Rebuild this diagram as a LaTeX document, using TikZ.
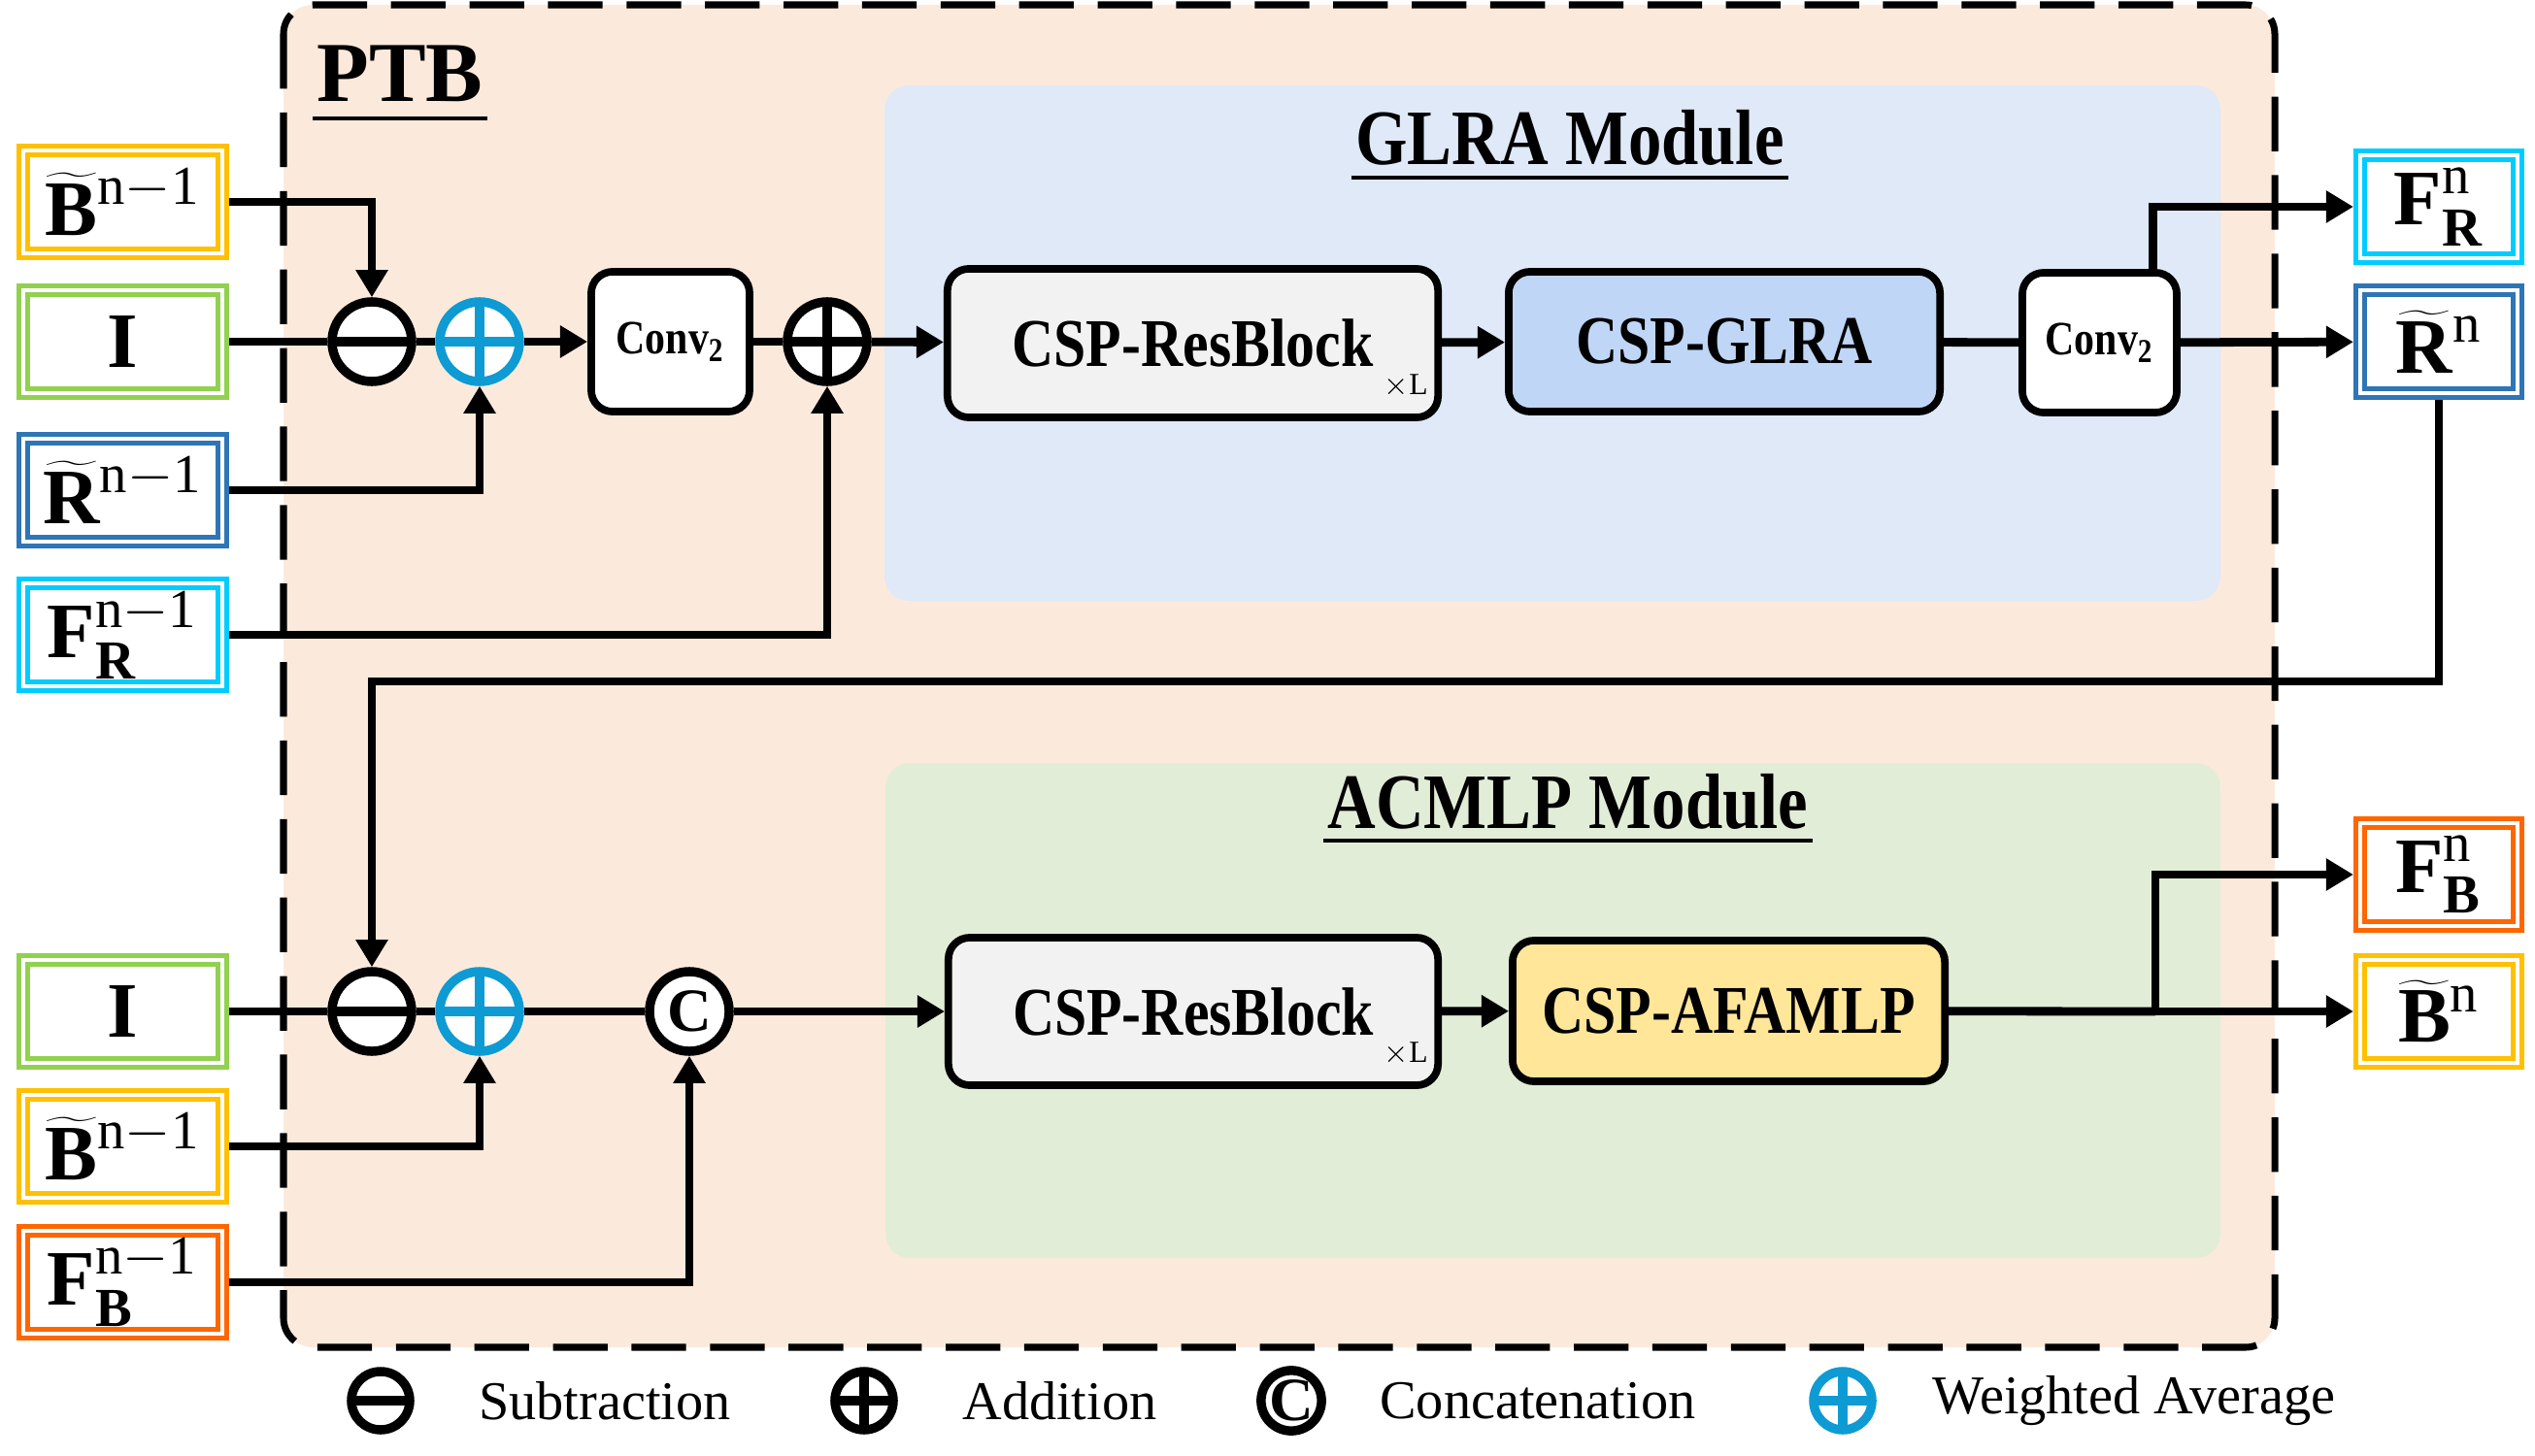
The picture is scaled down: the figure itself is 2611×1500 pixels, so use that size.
\documentclass[tikz,border=0pt]{standalone}
\usepackage{fontspec}
\setmainfont{Liberation Serif}
\newfontfamily\narrowfont{Liberation Serif}[FakeStretch=0.85]
\usetikzlibrary{arrows.meta}
\definecolor{ptbfill}{HTML}{FBEADC}
\definecolor{glrafill}{HTML}{DFE9F8}
\definecolor{acmlpfill}{HTML}{E2EDD8}
\definecolor{glrabox}{HTML}{BFD6F6}
\definecolor{afambox}{HTML}{FFE699}
\definecolor{resbox}{HTML}{F2F2F2}
\definecolor{cyell}{HTML}{FFC000}
\definecolor{cgreen}{HTML}{92D050}
\definecolor{cblue}{HTML}{2E75B6}
\definecolor{ccyan}{HTML}{00CCFF}
\definecolor{corange}{HTML}{FF6600}
\definecolor{wavg}{HTML}{0E9BD3}
\begin{document}
\begin{tikzpicture}[x=0.01cm,y=-0.01cm,
		>={Triangle[length=8pt,width=9pt]},
		line width=2.5pt,
		io/.style={draw=#1, double=white, double distance=1pt, line width=1.5pt, fill=white, outer sep=2pt,
			minimum width=2.05cm, minimum height=1.06cm, inner sep=0pt, font=\fontsize{23}{26}\selectfont},
		blk/.style={draw, line width=2.2pt, rounded corners=0.22cm, inner sep=0pt,
			font=\narrowfont\bfseries\fontsize{20}{24}\selectfont},
		opc/.style={circle, draw=#1, fill=white, line width=2.7pt, minimum size=0.82cm, inner sep=0pt},
		minus/.style={opc=black, path picture={\draw[line width=2.7pt] (path picture bounding box.west) -- (path picture bounding box.east);}},
		plus/.style={opc=#1, path picture={\draw[#1, line width=2.7pt] (path picture bounding box.west) -- (path picture bounding box.east)
			(path picture bounding box.north) -- (path picture bounding box.south);}},
		cat/.style={opc=black, font=\bfseries\fontsize{18}{20}\selectfont},
		ttl/.style={font=\narrowfont\bfseries\fontsize{23}{28}\selectfont, inner sep=0pt},
		lgd/.style={anchor=west, inner sep=0pt, font=\fontsize{16}{19}\selectfont},
		times/.style={anchor=south east, inner sep=0pt, font=\fontsize{9}{10}\selectfont}]
	\useasboundingbox (0,0) rectangle (2611,1500);
	% PTB block and the two modules
	\draw[fill=ptbfill, line width=2pt, dash pattern=on 16pt off 7pt, rounded corners=0.3cm] (292,5) rectangle (2343,1388);
	\fill[glrafill, rounded corners=0.25cm] (911,88) rectangle (2287,619);
	\fill[acmlpfill, rounded corners=0.25cm] (912,786) rectangle (2287,1296);
	\node[ttl, anchor=base west, font=\bfseries\fontsize{25}{30}\selectfont] (ptb) at (322,105) {PTB};
	\node[ttl, anchor=base] (glrat) at (1617,170) {GLRA Module};
	\node[ttl, anchor=base] (acmlpt) at (1615,853) {ACMLP Module};
	\draw[line width=1.4pt] ([yshift=-0.17cm]ptb.base west) -- ([yshift=-0.17cm]ptb.base east);
	\draw[line width=1.4pt] ([yshift=-0.13cm]glrat.base west) -- ([yshift=-0.13cm]glrat.base east);
	\draw[line width=1.4pt] ([yshift=-0.13cm]acmlpt.base west) -- ([yshift=-0.13cm]acmlpt.base east);
	% inputs
	\node[io=cyell] (bprev) at (126.5,208) {$\widetilde{\mathbf{B}}^{\mathrm{n-1}}$};
	\node[io=cgreen] (ia) at (126.5,352) {$\mathbf{I}$};
	\node[io=cblue] (rprev) at (126.5,505) {$\widetilde{\mathbf{R}}^{\mathrm{n-1}}$};
	\node[io=ccyan] (frprev) at (126.5,654) {$\mathbf{F}_{\mathbf{R}}^{\mathrm{n-1}}$};
	\node[io=cgreen] (ib) at (126.5,1042) {$\mathbf{I}$};
	\node[io=cyell] (bprevb) at (126.5,1181) {$\widetilde{\mathbf{B}}^{\mathrm{n-1}}$};
	\node[io=corange] (fbprev) at (126.5,1321) {$\mathbf{F}_{\mathbf{B}}^{\mathrm{n-1}}$};
	% outputs
	\node[io=ccyan, minimum width=1.62cm] (frout) at (2512,213) {$\mathbf{F}_{\mathbf{R}}^{\mathrm{n}}$};
	\node[io=cblue, minimum width=1.62cm] (rout) at (2512,352) {$\widetilde{\mathbf{R}}^{\mathrm{n}}$};
	\node[io=corange, minimum width=1.62cm] (fbout) at (2512,901) {$\mathbf{F}_{\mathbf{B}}^{\mathrm{n}}$};
	\node[io=cyell, minimum width=1.62cm] (bout) at (2512,1042) {$\widetilde{\mathbf{B}}^{\mathrm{n}}$};
	% GLRA row
	\node[minus] (suba) at (383,352) {};
	\node[plus=wavg] (wava) at (494,352) {};
	\node[blk, fill=white, minimum width=1.63cm, minimum height=1.44cm, font=\narrowfont\bfseries\fontsize{14}{16}\selectfont] (conva) at (690.5,352) {Conv\textsubscript{2}};
	\node[plus=black] (adda) at (852,352) {};
	\node[blk, fill=resbox, minimum width=5.05cm, minimum height=1.53cm] (resa) at (1228.5,353.5) {CSP-ResBlock};
	\node[times] (la) at ([xshift=-0.1cm,yshift=0.2cm]resa.south east) {$\times$L};
	\node[blk, fill=glrabox, minimum width=4.44cm, minimum height=1.44cm] (glra) at (1776,352) {CSP-GLRA};
	\node[blk, fill=white, minimum width=1.59cm, minimum height=1.44cm, font=\narrowfont\bfseries\fontsize{14}{16}\selectfont] (convb) at (2162.5,353) {Conv\textsubscript{2}};
	% ACMLP row
	\node[minus] (subb) at (383,1042) {};
	\node[plus=wavg] (wavb) at (494,1042) {};
	\node[cat] (catb) at (710,1042) {C};
	\node[blk, fill=resbox, minimum width=5.04cm, minimum height=1.52cm] (resb) at (1229,1042) {CSP-ResBlock};
	\node[times] (lb) at ([xshift=-0.1cm,yshift=0.2cm]resb.south east) {$\times$L};
	\node[blk, fill=afambox, minimum width=4.45cm, minimum height=1.45cm] (afam) at (1780.5,1041.5) {CSP-AFAMLP};
	\coordinate (split) at (2220,1042);
	% connectors
	\draw (ia) -- (suba) -- (wava);
	\draw[->] (wava) -- (conva);
	\draw (conva) -- (adda);
	\draw[->] (adda) -- (resa);
	\draw[->] (resa) -- (glra);
	\draw (glra) -- (convb);
	\draw[->] (convb) -- (rout);
	\draw[->] ([xshift=0.55cm]convb.north) |- (frout);
	\draw[->] (bprev) -| (suba);
	\draw[->] (rprev) -| (wava);
	\draw[->] (frprev) -| (adda);
	\draw[->] (rout) -- ++(0,350) -| (subb);
	\draw (ib) -- (subb) -- (wavb) -- (catb);
	\draw[->] (catb) -- (resb);
	\draw[->] (resb) -- (afam);
	\draw (afam) -- (split);
	\draw[->] (split) -- (bout);
	\draw[->] (split) |- (fbout);
	\draw[->] (bprevb) -| (wavb);
	\draw[->] (fbprev) -| (catb);
	% legend
	\node[minus, minimum size=0.6cm] (lsub) at (392,1443) {};
	\node[lgd] (lsubt) at (489,1443) {Subtraction};
	\node[plus=black, minimum size=0.6cm] (ladd) at (890,1443) {};
	\node[lgd] (laddt) at (987,1443) {Addition};
	\node[cat, minimum size=0.6cm] (lcat) at (1330,1443) {C};
	\node[lgd] (lcatt) at (1417,1443) {Concatenation};
	\node[plus=wavg, minimum size=0.6cm] (lwav) at (1898,1443) {};
	\node[lgd] (lwavt) at (1986,1443) {Weighted Average};
\end{tikzpicture}
\end{document}
